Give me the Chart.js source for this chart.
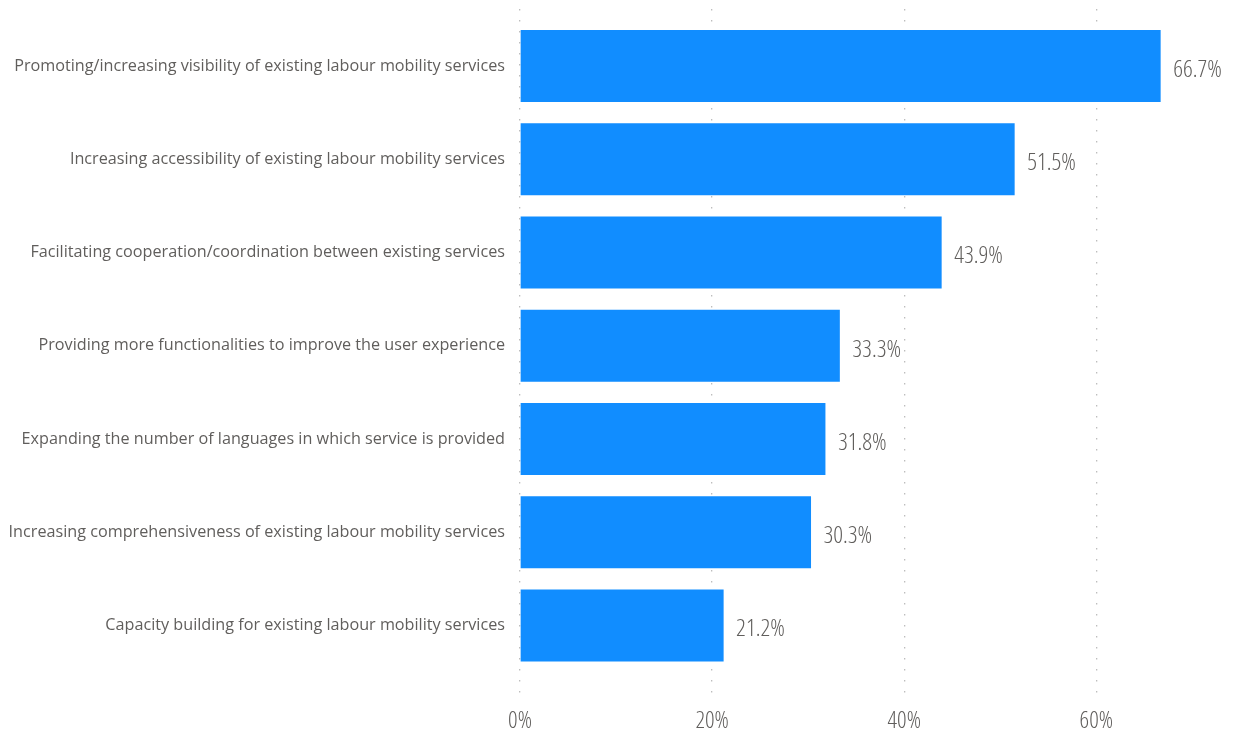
<!DOCTYPE html>
<html>
<head>
<meta charset="utf-8">
<script src="https://cdn.jsdelivr.net/npm/chart.js@4/dist/chart.umd.min.js"></script>
<style>
  html, body { margin: 0; padding: 0; background: #ffffff; }
  #wrap { width: 1233px; height: 733px; }
</style>
</head>
<body>
<div id="wrap"><canvas id="chart" width="1233" height="733"></canvas></div>
<script>
// Survey responses: share of respondents selecting each improvement
const categories = [
  'Promoting/increasing visibility of existing labour mobility services',
  'Increasing accessibility of existing labour mobility services',
  'Facilitating cooperation/coordination between existing services',
  'Providing more functionalities to improve the user experience',
  'Expanding the number of languages in which service is provided',
  'Increasing comprehensiveness of existing labour mobility services',
  'Capacity building for existing labour mobility services'
];
const shares = [66.7, 51.5, 43.9, 33.3, 31.8, 30.3, 21.2];
const xTicks = [0, 20, 40, 60];

const FONT = "'Open Sans', 'Noto Sans', sans-serif";
const TEXT = '#605E5C';
// light, narrow face of the same family for the numbers
const NUM_WEIGHT = '300 condensed';

// Value labels at the end of each bar
const valueLabels = {
  id: 'valueLabels',
  afterDatasetsDraw(chart) {
    const ctx = chart.ctx;
    const meta = chart.getDatasetMeta(0);
    ctx.save();
    ctx.font = NUM_WEIGHT + ' 24px ' + FONT;
    ctx.fillStyle = TEXT;
    ctx.textAlign = 'left';
    ctx.textBaseline = 'alphabetic';
    meta.data.forEach((bar, i) => {
      ctx.fillText(shares[i].toFixed(1) + '%', bar.x + 12.5, bar.y + 11);
    });
    ctx.restore();
  }
};

new Chart(document.getElementById('chart'), {
  type: 'bar',
  data: {
    datasets: [{
      data: shares.map((v, i) => ({ x: v, y: i })),
      backgroundColor: '#118DFF',
      borderWidth: 0,
      categoryPercentage: 1,
      barPercentage: 0.772
    }]
  },
  options: {
    indexAxis: 'y',
    responsive: false,
    animation: false,
    layout: { padding: { top: 9, right: 8, left: 0, bottom: 0 } },
    plugins: { legend: { display: false }, tooltip: { enabled: false } },
    scales: {
      x: {
        type: 'linear',
        min: 0,
        max: 73.4,
        afterBuildTicks(scale) { scale.ticks = xTicks.map(v => ({ value: v })); },
        afterFit(scale) { scale.height = 33; },
        border: { display: false, dash: [1.5, 9.5] },
        grid: {
          color: '#BDBDBD',
          lineWidth: 1.3,
          drawTicks: false
        },
        ticks: {
          padding: 7,
          color: TEXT,
          font: { family: FONT, size: 23.5, weight: NUM_WEIGHT },
          callback: v => v + '%'
        }
      },
      y: {
        type: 'linear',
        reverse: true,
        offset: false,
        min: -0.61,
        max: 6.8,
        afterBuildTicks(scale) { scale.ticks = categories.map((c, i) => ({ value: i })); },
        afterFit(scale) {
          scale.width = 520;
          scale.paddingTop = 0;
          scale.paddingBottom = 0;
        },
        border: { display: false },
        grid: { display: false, offset: false, drawTicks: false },
        ticks: {
          padding: 15,
          color: TEXT,
          font: { family: FONT, size: 16.2 },
          callback: v => categories[v]
        }
      }
    }
  },
  plugins: [valueLabels]
});
</script>
</body>
</html>
